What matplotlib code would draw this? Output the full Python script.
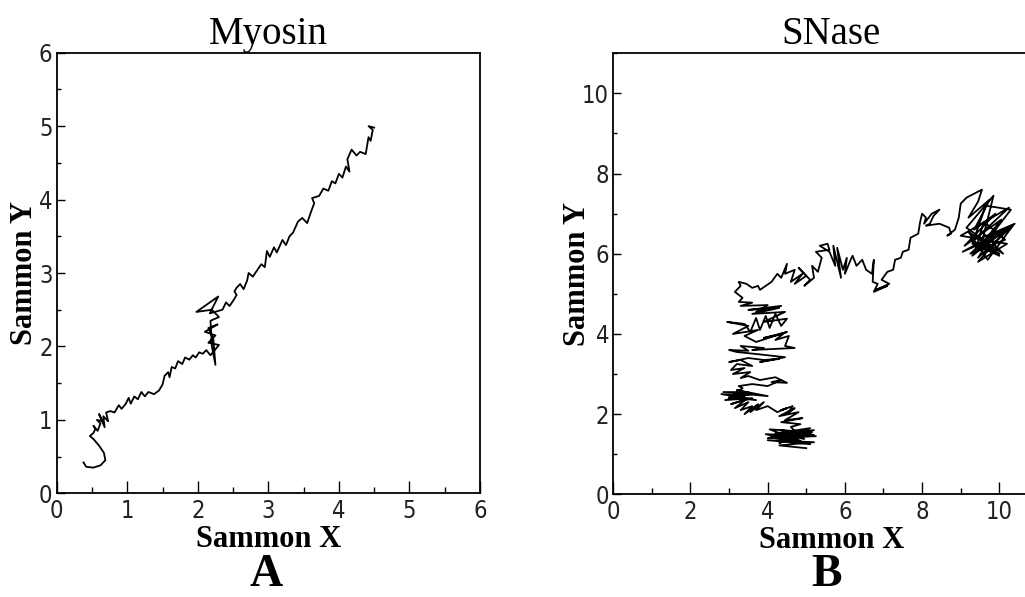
import matplotlib
matplotlib.use("Agg")
import matplotlib.pyplot as plt
from matplotlib import font_manager
from matplotlib.ticker import MultipleLocator

# Myosin trajectory (Sammon map)
myosin_x = [0.38, 0.42, 0.52, 0.62, 0.69, 0.67, 0.60, 0.52, 0.47, 0.52, 0.55, 0.52,
            0.58, 0.62, 0.57, 0.65, 0.60, 0.68, 0.66, 0.73, 0.70, 0.76, 0.82, 0.88,
            0.92, 0.98, 1.02, 1.05, 1.10, 1.15, 1.20, 1.25, 1.30, 1.38, 1.45, 1.50,
            1.53, 1.58, 1.60, 1.63, 1.68, 1.72, 1.78, 1.82, 1.88, 1.93, 1.97, 2.02,
            2.07, 2.12, 2.18, 2.30, 2.15, 2.25, 2.10, 2.28, 2.15, 2.22, 2.25, 2.20,
            2.18, 2.30, 2.20, 1.98, 2.29, 2.17, 2.35, 2.40, 2.45, 2.50, 2.55, 2.52,
            2.55, 2.60, 2.65, 2.70, 2.72, 2.78, 2.85, 2.90, 2.95, 2.98, 3.02, 3.08,
            3.12, 3.20, 3.25, 3.30, 3.35, 3.42, 3.48, 3.55, 3.60, 3.65, 3.62, 3.72,
            3.78, 3.85, 3.90, 3.95, 4.00, 4.05, 4.10, 4.15, 4.12, 4.18, 4.25, 4.30,
            4.38, 4.42, 4.45, 4.48, 4.42, 4.50]
myosin_y = [0.42, 0.36, 0.35, 0.38, 0.45, 0.55, 0.65, 0.74, 0.78, 0.82, 0.88, 0.92,
            0.85, 0.95, 1.00, 0.98, 1.08, 0.90, 1.05, 0.98, 1.10, 1.12, 1.10, 1.20,
            1.15, 1.22, 1.30, 1.22, 1.32, 1.28, 1.38, 1.32, 1.38, 1.35, 1.40, 1.48,
            1.60, 1.65, 1.58, 1.72, 1.70, 1.80, 1.76, 1.85, 1.82, 1.88, 1.85, 1.92,
            1.90, 1.95, 1.88, 2.02, 2.05, 2.15, 2.20, 2.30, 2.25, 2.10, 1.75, 2.00,
            2.35, 2.40, 2.50, 2.47, 2.68, 2.45, 2.50, 2.60, 2.55, 2.62, 2.70, 2.75,
            2.80, 2.85, 2.78, 2.90, 3.00, 2.95, 3.05, 3.12, 3.08, 3.30, 3.22, 3.35,
            3.28, 3.45, 3.38, 3.50, 3.55, 3.70, 3.75, 3.68, 3.82, 3.95, 4.02, 4.05,
            4.15, 4.12, 4.25, 4.22, 4.35, 4.30, 4.45, 4.38, 4.55, 4.68, 4.60, 4.65,
            4.62, 4.85, 4.80, 4.95, 5.00, 4.98]

# SNase trajectory, in pieces from the bottom hook up to the cluster on the right
sn_bottom_x = [5.00, 4.30, 5.20, 4.00, 5.10, 4.20, 5.25, 3.95, 4.90, 4.40, 5.20, 4.10,
               5.00, 4.30, 5.15, 4.05, 4.80, 4.50, 5.10, 4.20, 4.95, 4.35, 5.20, 4.00,
               4.70, 4.60]
sn_bottom_y = [1.15, 1.22, 1.30, 1.35, 1.25, 1.40, 1.45, 1.50, 1.30, 1.55, 1.60, 1.42,
               1.50, 1.28, 1.55, 1.62, 1.35, 1.48, 1.65, 1.52, 1.38, 1.60, 1.48, 1.40,
               1.58, 1.68]
sn_diag_x = [4.85, 4.35, 4.90, 4.45, 4.80, 4.30, 4.70, 4.50, 4.65, 4.35, 4.50, 4.25]
sn_diag_y = [1.75, 1.80, 1.90, 1.85, 2.05, 1.95, 2.15, 2.00, 2.20, 2.10, 2.15, 2.05]
sn_band_x = [4.00, 3.70, 3.90, 3.55, 3.75, 3.40, 3.60, 3.30, 3.50, 3.15, 3.45, 3.05,
             3.60, 2.90, 3.40, 2.80, 3.70, 3.00, 3.50, 2.85, 4.00, 3.20, 3.60, 3.00,
             3.35, 3.25]
sn_band_y = [2.20, 2.10, 2.30, 2.05, 2.25, 2.00, 2.20, 2.10, 2.30, 2.15, 2.38, 2.25,
             2.40, 2.35, 2.45, 2.50, 2.35, 2.42, 2.55, 2.55, 2.45, 2.60, 2.50, 2.40,
             2.65, 2.70]
sn_mid_x = [3.60, 4.00, 4.35, 4.10, 4.50, 4.20, 3.80, 3.50, 3.30, 3.55, 3.10, 3.40,
            3.05, 3.20, 3.60, 3.30, 3.00, 3.50, 3.90, 4.30, 3.80, 4.45, 3.70, 3.20]
sn_mid_y = [2.75, 2.70, 2.85, 2.80, 2.78, 2.92, 2.85, 2.95, 2.90, 3.05, 3.00, 3.15,
            3.10, 3.25, 3.20, 3.35, 3.30, 3.40, 3.35, 3.38, 3.30, 3.42, 3.50, 3.55]
sn_wide_x = [3.00, 3.50, 3.30, 3.90, 3.60, 4.70, 4.45, 4.55, 4.20, 4.40, 3.90, 4.50,
             3.70, 3.40, 3.75, 3.10, 3.50, 2.95]
sn_wide_y = [3.60, 3.58, 3.70, 3.65, 3.60, 3.65, 3.70, 3.95, 3.85, 4.00, 3.90, 4.05,
             3.80, 3.95, 4.10, 4.00, 4.20, 4.30]
sn_saw_x = [3.40, 3.55, 3.70, 3.80, 3.95, 4.05, 4.20, 4.35, 4.50, 3.90, 4.45, 3.60,
            4.30, 3.50, 4.35, 3.70, 4.00, 3.30, 3.60, 3.25]
sn_saw_y = [4.25, 4.05, 4.40, 4.10, 4.45, 4.15, 4.50, 4.20, 4.38, 4.30, 4.55, 4.50,
            4.65, 4.60, 4.70, 4.55, 4.72, 4.70, 4.78, 4.80]
sn_upper_x = [3.35, 3.15, 3.30, 3.25, 3.45, 3.60, 3.75, 3.80, 4.10, 4.25, 4.35, 4.50,
              4.45, 4.70, 4.60, 4.90, 4.70, 5.00, 4.80, 5.10, 4.95, 5.20, 5.15, 5.30,
              5.40, 5.25, 5.60, 5.55, 5.35]
sn_upper_y = [4.90, 5.05, 5.20, 5.30, 5.25, 5.15, 5.20, 5.10, 5.30, 5.50, 5.40, 5.75,
              5.50, 5.60, 5.30, 5.50, 5.25, 5.45, 5.65, 5.35, 5.20, 5.40, 5.70, 5.55,
              5.90, 6.05, 6.10, 6.25, 6.20]
sn_spikes_x = [5.60, 5.75, 5.70, 5.90, 5.80, 5.95, 6.05, 6.00, 6.15, 6.20, 6.30, 6.45,
               6.55, 6.70, 6.75, 6.72, 6.85, 6.75, 7.10, 6.80, 7.15, 6.95]
sn_spikes_y = [6.05, 5.70, 6.20, 5.40, 6.15, 5.60, 5.90, 5.50, 5.85, 5.95, 5.70, 5.85,
               5.60, 5.50, 5.85, 5.30, 5.25, 5.05, 5.20, 5.10, 5.25, 5.35]
sn_rise_x = [7.10, 7.25, 7.30, 7.45, 7.50, 7.65, 7.70, 7.90, 7.95, 8.00, 8.10, 8.05,
             8.25, 8.45, 8.30, 8.20, 8.10, 8.45, 8.70, 8.75, 8.65, 8.85, 8.95, 9.00,
             9.15, 9.35, 9.55, 9.50, 9.45]
sn_rise_y = [5.55, 5.60, 5.85, 5.90, 6.05, 6.10, 6.40, 6.50, 6.80, 7.00, 6.90, 6.75,
             7.00, 7.10, 6.95, 6.75, 6.70, 6.75, 6.65, 6.50, 6.45, 6.60, 6.90, 7.25,
             7.40, 7.50, 7.60, 7.45, 7.30]
sn_cluster_x = [9.20, 9.75, 9.35, 9.90, 9.10, 10.05, 9.30, 10.30, 9.05, 10.10, 9.45,
                10.20, 9.00, 9.80, 10.25, 9.30, 10.00, 9.20, 9.70, 10.35, 9.40, 9.60,
                10.15, 9.25, 9.90, 9.45, 10.40, 9.55, 10.00, 9.30, 9.65, 10.30, 9.50,
                9.85, 9.15, 10.10, 9.60]
sn_cluster_y = [6.90, 7.35, 6.60, 7.00, 6.20, 6.85, 5.95, 6.70, 6.05, 6.50, 5.80,
                6.25, 6.45, 6.90, 7.15, 6.30, 6.00, 6.55, 5.85, 6.70, 6.15, 6.80,
                6.35, 6.00, 6.60, 5.90, 6.75, 6.40, 5.95, 6.25, 7.20, 7.10, 6.10,
                7.45, 6.65, 6.00, 6.50]

snase_x = (sn_bottom_x + sn_diag_x + sn_band_x + sn_mid_x + sn_wide_x + sn_saw_x
           + sn_upper_x + sn_spikes_x + sn_rise_x + sn_cluster_x)
snase_y = (sn_bottom_y + sn_diag_y + sn_band_y + sn_mid_y + sn_wide_y + sn_saw_y
           + sn_upper_y + sn_spikes_y + sn_rise_y + sn_cluster_y)

serif_font = ["Liberation Serif", "DejaVu Serif"]


# the tick numbers are in a narrow sans; take whatever condensed face is installed
def narrow_font():
    for f in font_manager.fontManager.ttflist:
        if ("Narrow" in f.name or "Condensed" in f.name or "condensed" in str(f.stretch)) \
                and f.style == "normal" and f.weight in (300, 400, "light", "normal", "regular"):
            return font_manager.FontProperties(fname=f.fname, size=17)
    return font_manager.FontProperties(family="DejaVu Sans", stretch="condensed", size=17)


tick_prop = narrow_font()

fig = plt.figure(figsize=(10.25, 5.97), dpi=100)
ax1 = fig.add_axes([0.0553, 0.1737, 0.413, 0.738])
ax2 = fig.add_axes([0.5983, 0.172, 0.4256, 0.7387])


def style_axes(ax, major, minor):
    ax.xaxis.set_major_locator(MultipleLocator(major))
    ax.xaxis.set_minor_locator(MultipleLocator(minor))
    ax.yaxis.set_major_locator(MultipleLocator(major))
    ax.yaxis.set_minor_locator(MultipleLocator(minor))
    ax.tick_params(axis="x", which="major", direction="in", length=8.6, width=1.0, pad=4)
    ax.tick_params(axis="x", which="minor", direction="in", length=4.3, width=1.0)
    ax.tick_params(axis="y", which="major", direction="in", length=5.8, width=1.0, pad=3)
    ax.tick_params(axis="y", which="minor", direction="in", length=3.0, width=1.0)
    ax.tick_params(top=False, right=False, which="both")
    for lab in ax.get_xticklabels() + ax.get_yticklabels():
        lab.set_fontproperties(tick_prop)
        lab.set_color("#222222")
    for sp in ax.spines.values():
        sp.set_linewidth(1.3)
    ax.set_xlabel("Sammon X", fontfamily=serif_font, fontweight="bold", fontsize=22)
    ax.set_ylabel("Sammon Y", fontfamily=serif_font, fontweight="bold", fontsize=22)
    ax.xaxis.label.set_va("baseline")
    ax.yaxis.label.set_va("center")


ax1.plot(myosin_x, myosin_y, color="black", linewidth=1.3)
ax1.set_xlim(0, 6)
ax1.set_ylim(0, 6)
style_axes(ax1, 1, 0.5)
ax1.xaxis.set_label_coords(0.5, -0.122)
ax1.yaxis.set_label_coords(-0.075, 0.5)
ax1.set_title("Myosin", fontfamily=serif_font, fontsize=28, pad=6.5)

ax2.plot(snase_x, snase_y, color="black", linewidth=1.3)
ax2.set_xlim(0, 11.3)
ax2.set_ylim(0, 11)
style_axes(ax2, 2, 1)
ax2.xaxis.set_label_coords(0.5, -0.122)
ax2.yaxis.set_label_coords(-0.083, 0.5)
ax2.set_title("SNase", fontfamily=serif_font, fontsize=28, pad=6.5)

fig.text(0.2595, 0.001, "A", fontfamily=serif_font, fontweight="bold", fontsize=33,
         ha="center", va="bottom")
fig.text(0.806, 0.001, "B", fontfamily=serif_font, fontweight="bold", fontsize=33,
         ha="center", va="bottom")

fig.savefig("out.png", dpi=100)
